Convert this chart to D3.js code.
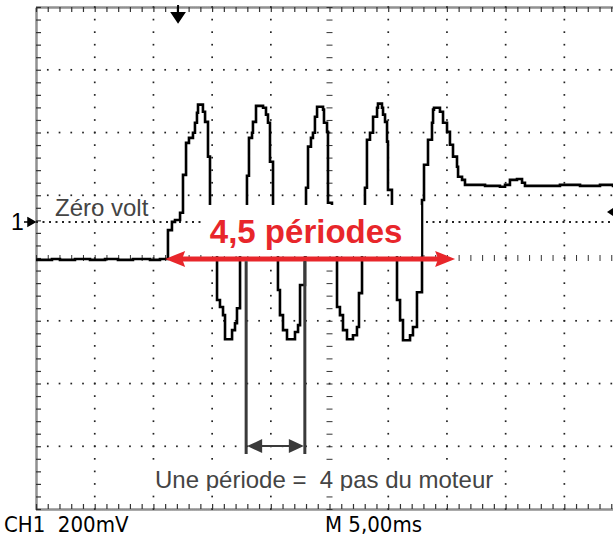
<!DOCTYPE html>
<html>
<head>
<meta charset="utf-8">
<script src="https://cdn.jsdelivr.net/npm/d3@7"></script>
<style>
  body { margin: 0; background: #fff; }
  svg { display: block; }
  text { white-space: pre; }
</style>
</head>
<body>
<div id="scope"></div>
<script>
// scope settings
const msPerDiv = 5;
const mvPerDiv = 200;
const zeroOffsetMv = 115;   // trace zero sits above the centre line

// trace: [time ms, voltage mV]
const trace = [
    [0, -121], [1.36, -118], [2.04, -121], [3.32, -118], [4.6, -121], [5.88, -118], [6.98, -121], [8.26, -118], [9.71, -121], [10.56, -118],
    [11.24, -26], [11.58, 0], [11.84, 6], [12.27, 29], [12.52, 150], [12.78, 252], [13.03, 268], [13.37, 284], [13.54, 316], [13.71, 348], [13.8, 374], [14.22, 351], [14.4, 319], [14.65, 208], [14.82, -41],
    [15.42, -249], [15.67, -271], [15.93, -297], [16.1, -374], [16.7, -345], [16.95, -323], [17.12, -275], [17.38, -57],
    [17.97, 147], [18.14, 268], [18.4, 284], [18.48, 319], [18.74, 370], [19.34, 364], [19.59, 342], [19.76, 316], [19.93, 192], [20.19, -41],
    [20.61, -217], [20.78, -297], [21.04, -345], [21.38, -374], [22.06, -351], [22.32, -329], [22.49, -201], [22.91, -41],
    [23.0, 109], [23.17, 240], [23.42, 268], [23.59, 284], [23.76, 335], [23.94, 367], [24.45, 358], [24.53, 316], [24.79, 287], [24.87, 61], [25.21, -41],
    [25.64, -271], [25.89, -297], [26.15, -345], [26.49, -374], [27.0, -361], [27.34, -335], [27.51, -227], [27.77, -41],
    [28.02, 109], [28.19, 262], [28.45, 284], [28.71, 335], [29.05, 364], [29.13, 377], [29.47, 364], [29.56, 342], [29.73, 319], [29.9, 256], [29.98, 102], [30.32, -41],
    [30.75, -249], [31.01, -313], [31.26, -377], [31.86, -361], [32.11, -335], [32.45, -224],
    [32.88, 70], [33.05, 182], [33.39, 262], [33.73, 316], [33.82, 358], [33.9, 364], [34.41, 351], [34.67, 316], [35.01, 287], [35.26, 246], [35.52, 208], [35.86, 176], [35.95, 144], [36.29, 134], [36.54, 118],
    [38.25, 115], [39.52, 112], [39.95, 118], [40.37, 134], [40.97, 137], [41.4, 125], [41.65, 115], [43.36, 115], [44.63, 118], [46.34, 115], [48.04, 118], [49.15, 115], [50, 115]
];

// markers
const triggerMs = 12.1;
const triggerLevelMv = 32;

// annotations (time ms)
const spanMs = [11.0, 35.7];       // 4,5 périodes
const spanMv = -118;
const spanBoxMs = [14.2, 32.8];
const spanBoxMv = [54, -109];
const periodMs = [17.9, 22.9];     // une période
const periodMv = [-125, -740];

const spanLabel = "4,5 périodes";
const zeroLabel = "Zéro volt";
const periodLabel = "Une période =  4 pas du moteur";
const chLabel = "CH1  200mV";
const timeLabel = "M 5,00ms";

function createScope() {
    var width = 613;
    var height = 537;
    var margin = ({top: 7, left: 36});
    var divW = 58.7;
    var divH = 62.75;

    var x = d3.scaleLinear()
        .domain([0, 10 * msPerDiv])
        .range([margin.left, margin.left + 10 * divW]);

    var centreMv = -zeroOffsetMv;
    var y = d3.scaleLinear()
        .domain([centreMv - 4 * mvPerDiv, centreMv + 4 * mvPerDiv])
        .range([margin.top + 8 * divH, margin.top]);

    var majorT = d3.range(0, 10 * msPerDiv + 0.01, msPerDiv);
    var minorT = d3.range(0, 10 * msPerDiv + 0.01, msPerDiv / 5);
    var majorV = d3.range(-4, 5).map(k => centreMv + k * mvPerDiv);
    var minorV = d3.range(-20, 21).map(k => centreMv + k * mvPerDiv / 5);

    var svg = d3.select("#scope")
        .append("svg")
            .attr("viewBox", [0, 0, width, height])
            .attr("width", width)
            .attr("height", height)
            .style("font-family", "'Liberation Sans', Arial, sans-serif");

    // graticule dots
    var dots = svg.append("g").attr("fill", "#222");
    majorT.filter(t => t > 0 && t !== 5 * msPerDiv && t < 10 * msPerDiv).forEach(t => {
        dots.selectAll(null)
            .data(minorV)
            .join("rect")
                .attr("x", x(t) - 0.8)
                .attr("y", d => y(d) - 0.8)
                .attr("width", 1.7)
                .attr("height", 1.7);
    });
    majorV.filter(v => v > y.domain()[0] && v !== centreMv && v < y.domain()[1]).forEach(v => {
        dots.selectAll(null)
            .data(minorT.filter(t => t > 0))
            .join("rect")
                .attr("x", d => x(d) - 0.8)
                .attr("y", y(v) - 0.8)
                .attr("width", 1.7)
                .attr("height", 1.7);
    });

    // frame with minor ticks
    var frame = g => g
        .call(g => g.select(".domain")
            .attr("stroke", "#222")
            .attr("stroke-width", 2.5)
            .attr("stroke-dasharray", "1,1"))
        .call(g => g.selectAll(".tick line").attr("stroke", "#333").attr("stroke-width", 1.2));

    svg.append("g")
        .attr("transform", `translate(${margin.left},0)`)
        .call(d3.axisRight(y).tickValues(minorV).tickSize(5).tickFormat("").tickSizeOuter(0))
        .call(frame);

    svg.append("g")
        .attr("transform", `translate(0,${margin.top})`)
        .call(d3.axisBottom(x).tickValues(minorT).tickSize(5).tickFormat("").tickSizeOuter(0))
        .call(frame);

    svg.append("g")
        .attr("transform", `translate(0,${y.range()[0]})`)
        .call(d3.axisTop(x).tickValues(minorT).tickSize(5).tickFormat("").tickSizeOuter(0))
        .call(frame);

    // centre axes
    svg.append("g")
        .attr("transform", `translate(0,${y(centreMv) - 3})`)
        .call(d3.axisBottom(x).tickValues(minorT).tickSize(6).tickFormat(""))
        .call(g => g.select(".domain").remove())
        .call(g => g.selectAll(".tick line").attr("stroke", "#333"));

    svg.append("g")
        .attr("transform", `translate(${x(5 * msPerDiv) - 3},0)`)
        .call(d3.axisRight(y).tickValues(minorV).tickSize(6).tickFormat(""))
        .call(g => g.select(".domain").remove())
        .call(g => g.selectAll(".tick line").attr("stroke", "#333"));

    // zero volt reference
    svg.append("line")
        .attr("x1", x(0))
        .attr("x2", width)
        .attr("y1", y(0))
        .attr("y2", y(0))
        .attr("stroke", "#222")
        .attr("stroke-width", 2)
        .attr("stroke-dasharray", "2,4.5");

    // trace
    var line = d3.line()
        .x(d => x(d[0]))
        .y(d => y(d[1]))
        .curve(d3.curveStepAfter);

    svg.append("path")
        .datum(trace)
        .attr("fill", "none")
        .attr("stroke", "#000")
        .attr("stroke-width", 2.6)
        .attr("d", line);

    // trigger position marker
    var tx = x(triggerMs);
    svg.append("path")
        .attr("d", `M${tx},${margin.top - 2}V${margin.top + 8}M${tx - 6},${margin.top + 6}H${tx + 6}L${tx},${margin.top + 15}Z`)
        .attr("stroke", "#000")
        .attr("stroke-width", 2)
        .attr("fill", "#000");

    // channel 1 ground marker
    svg.append("text")
        .attr("x", 11)
        .attr("y", y(0) + 8)
        .attr("font-size", 23)
        .attr("fill", "#000")
        .text("1");
    svg.append("path")
        .attr("d", `M24,${y(0)}H30M28,${y(0) - 4}L35,${y(0)}L28,${y(0) + 4}Z`)
        .attr("stroke", "#000")
        .attr("stroke-width", 1.5)
        .attr("fill", "#000");

    // trigger level marker
    var ty = y(triggerLevelMv);
    svg.append("path")
        .attr("d", `M${width},${ty - 4}L${width - 6},${ty}L${width},${ty + 4}Z`)
        .attr("fill", "#000");

    svg.append("text")
        .attr("x", 55)
        .attr("y", y(0) - 6)
        .attr("font-size", 24)
        .attr("fill", "#444")
        .text(zeroLabel);

    // 4,5 périodes
    svg.append("rect")
        .attr("x", x(spanBoxMs[0]))
        .attr("y", y(spanBoxMv[0]))
        .attr("width", x(spanBoxMs[1]) - x(spanBoxMs[0]))
        .attr("height", y(spanBoxMv[1]) - y(spanBoxMv[0]))
        .attr("fill", "#fff");

    var red = "#e8262b";
    var sy = y(spanMv);
    var sx0 = x(spanMs[0]);
    var sx1 = x(spanMs[1]);
    svg.append("line")
        .attr("x1", sx0 + 15)
        .attr("x2", sx1 - 15)
        .attr("y1", sy)
        .attr("y2", sy)
        .attr("stroke", red)
        .attr("stroke-width", 5);
    svg.append("path")
        .attr("d", `M${sx0},${sy}L${sx0 + 20},${sy - 8}L${sx0 + 17},${sy}L${sx0 + 20},${sy + 8}Z` +
                   `M${sx1},${sy}L${sx1 - 20},${sy - 8}L${sx1 - 17},${sy}L${sx1 - 20},${sy + 8}Z`)
        .attr("fill", red);

    svg.append("text")
        .attr("x", (sx0 + sx1) / 2 - 4)
        .attr("y", sy - 16)
        .attr("text-anchor", "middle")
        .attr("font-size", 33)
        .attr("font-weight", "bold")
        .attr("fill", red)
        .text(spanLabel);

    // une période
    var px0 = x(periodMs[0]);
    var px1 = x(periodMs[1]);
    var py0 = y(periodMv[0]);
    var py1 = y(periodMv[1]);
    var grey = "#3a3a3a";
    svg.append("path")
        .attr("d", `M${px0},${py0}V${py1}M${px1},${py0}V${py1}`)
        .attr("stroke", grey)
        .attr("stroke-width", 3);
    var ay = py1 - 8;
    svg.append("line")
        .attr("x1", px0 + 10)
        .attr("x2", px1 - 10)
        .attr("y1", ay)
        .attr("y2", ay)
        .attr("stroke", grey)
        .attr("stroke-width", 2);
    svg.append("path")
        .attr("d", `M${px0 + 1},${ay}L${px0 + 16},${ay - 7}L${px0 + 16},${ay + 7}Z` +
                   `M${px1 - 1},${ay}L${px1 - 16},${ay - 7}L${px1 - 16},${ay + 7}Z`)
        .attr("fill", grey);

    svg.append("clipPath")
        .attr("id", "period-clip")
        .append("rect")
            .attr("x", 0)
            .attr("y", 0)
            .attr("width", width)
            .attr("height", 491);
    svg.append("rect")
        .attr("x", 150)
        .attr("y", 463)
        .attr("width", 345)
        .attr("height", 28)
        .attr("fill", "#fff");
    svg.append("text")
        .attr("x", 155)
        .attr("y", 488)
        .attr("font-size", 24)
        .attr("fill", "#444")
        .attr("clip-path", "url(#period-clip)")
        .text(periodLabel);

    // status line
    var status = svg.append("g")
        .attr("font-family", "'Liberation Sans Narrow', 'DejaVu Sans Condensed', sans-serif")
        .attr("font-size", 22)
        .attr("fill", "#000");
    status.append("text")
        .attr("x", 4)
        .attr("y", 532)
        .text(chLabel);
    status.append("text")
        .attr("x", 325)
        .attr("y", 532)
        .text(timeLabel);
}

createScope();
</script>
</body>
</html>
